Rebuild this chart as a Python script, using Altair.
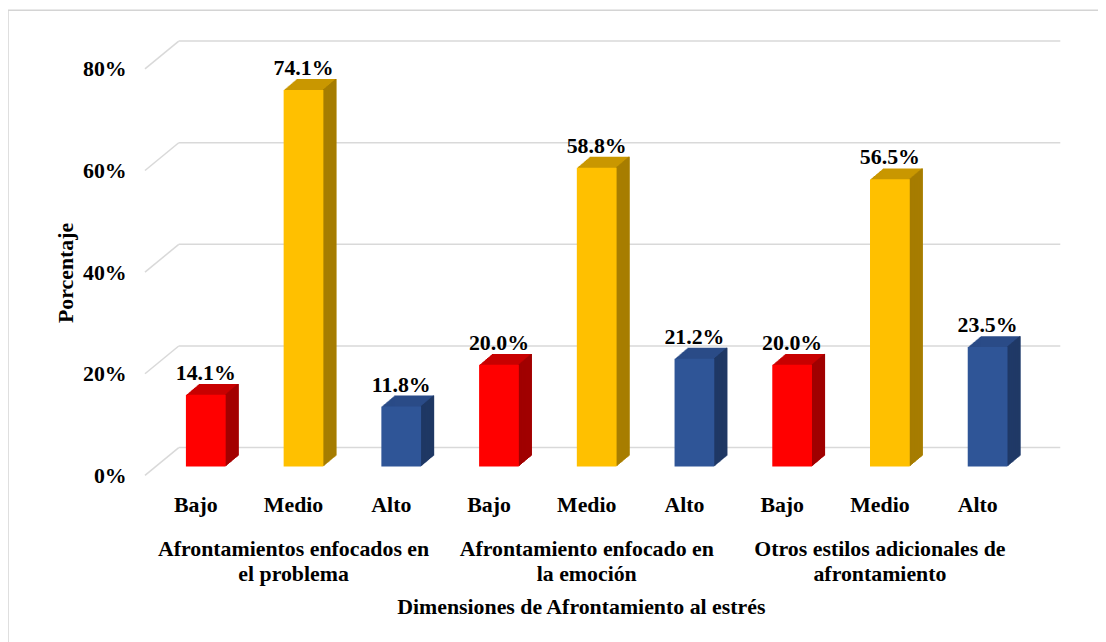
import altair as alt
import pandas as pd

# ---- data ----
groups = [
    "Afrontamientos enfocados en\nel problema",
    "Afrontamiento enfocado en\nla emoción",
    "Otros estilos adicionales de\nafrontamiento",
]
levels = ["Bajo", "Medio", "Alto"]
values_problema = [14.1, 74.1, 11.8]
values_emocion = [20.0, 58.8, 21.2]
values_otros = [20.0, 56.5, 23.5]
y_ticks = [0, 20, 40, 60, 80]

all_values = [values_problema, values_emocion, values_otros]
rows = []
for gi, g in enumerate(groups):
    for li, lv in enumerate(levels):
        rows.append({"id": f"{gi}-{lv}", "group": g, "level": lv, "value": all_values[gi][li]})
df = pd.DataFrame(rows)
order = list(df["id"])
ticks_df = pd.DataFrame({"tick": y_ticks})
group_df = pd.DataFrame({"id": [f"{gi}-Medio" for gi in range(len(groups))], "group": groups})

# ---- styles ----
FONT = "Liberation Serif"
FS = 22
front_colors = ["#FF0000", "#FFC000", "#2F5597"]
top_colors = ["#C80000", "#C99700", "#2A4B87"]
side_colors = ["#A00000", "#A47B00", "#1F3864"]
W = 886
H = 409.5
BAR_W = 40
SHIFT = 10
DEPTH_X = 13
DEPTH_Y = 11
GRID = "#D9D9D9"
PAD_L = 140

xscale = alt.Scale(domain=order, paddingInner=0, paddingOuter=0)
yscale = alt.Scale(domain=[0, 80], nice=False, zero=True)

x_enc = alt.X(
    "id:N",
    scale=xscale,
    sort=order,
    axis=alt.Axis(
        labelExpr="split(datum.value, '-')[1]",
        labelFont=FONT, labelFontSize=FS, labelFontWeight="bold", labelColor="black",
        labelPadding=28, ticks=False, domain=False, grid=False, labelAngle=0,
        title="Dimensiones de Afrontamiento al estrés",
        titleFont=FONT, titleFontSize=FS, titleFontWeight="bold", titleColor="black",
        titleX=437, titleY=148, titleBaseline="alphabetic", titleAlign="center",
    ),
)
y_enc = alt.Y(
    "value:Q",
    scale=yscale,
    axis=alt.Axis(
        values=y_ticks, labelExpr="datum.value + '%'",
        labelFont=FONT, labelFontSize=FS, labelFontWeight="bold", labelColor="black",
        labelPadding=21, labelOffset=9, ticks=False, domain=False, grid=False,
        title="Porcentaje", titleFont=FONT, titleFontSize=FS, titleFontWeight="bold",
        titleColor="black", titleAngle=270, titleX=-82, titleY=214,
        titleAlign="center", titleBaseline="middle",
    ),
)

def col(rng):
    return alt.Color("level:N", scale=alt.Scale(domain=levels, range=rng), legend=None)

base = alt.Chart(df)

# frame
frame = alt.Chart(pd.DataFrame({"a": [0]})).mark_rect(
    filled=False, stroke="#D4D4D4", strokeWidth=1.5
).encode(x=alt.value(-140), x2=alt.value(965), y=alt.value(-50), y2=alt.value(600))

# gridlines (back wall + left diagonals)
grid_back = alt.Chart(ticks_df).mark_rule(color=GRID, strokeWidth=1.5, yOffset=-19).encode(
    y=alt.Y("tick:Q", scale=yscale), x=alt.value(32), x2=alt.value(920)
)
grid_diag = alt.Chart(ticks_df).mark_rule(color=GRID, strokeWidth=1.5, yOffset=9, y2Offset=-19).encode(
    y=alt.Y("tick:Q", scale=yscale), y2="tick:Q", x=alt.value(-2), x2=alt.value(32)
)

layers = [frame, grid_back, grid_diag]

# top face (stacked shifted copies)
for k in range(1, DEPTH_X + 1):
    dy = k * DEPTH_Y / DEPTH_X
    layers.append(
        base.mark_bar(width=BAR_W, xOffset=SHIFT + k, yOffset=-dy).encode(
            x=x_enc, y=y_enc, color=col(top_colors)
        )
    )
# side face strips
for k in range(1, DEPTH_X + 1):
    dy = k * DEPTH_Y / DEPTH_X
    layers.append(
        base.mark_bar(width=1.4, xOffset=SHIFT + BAR_W / 2 + k - 0.5, yOffset=-dy).encode(
            x=x_enc, y=y_enc, color=col(side_colors)
        )
    )
# front face
layers.append(
    base.mark_bar(width=BAR_W, xOffset=SHIFT).encode(x=x_enc, y=y_enc, color=col(front_colors))
)
# value labels
layers.append(
    base.transform_calculate(label="format(datum.value, '.1f') + '%'")
    .mark_text(font=FONT, fontSize=FS, fontWeight="bold", color="black",
               baseline="alphabetic", dy=-15, xOffset=SHIFT)
    .encode(x=x_enc, y=y_enc, text="label:N")
)
# group labels
layers.append(
    alt.Chart(group_df)
    .mark_text(font=FONT, fontSize=FS, fontWeight="bold", color="black",
               baseline="alphabetic", lineBreak="\n", lineHeight=25, align="center")
    .encode(x=alt.X("id:N", scale=xscale, sort=order), y=alt.value(500), text="group:N")
)

chart = (
    alt.layer(*layers)
    .resolve_scale(color="independent")
    .properties(
        width=W, height=H,
        autosize=alt.AutoSizeParams(type="none"),
        padding={"left": PAD_L, "top": 50, "right": 72, "bottom": 176},
    )
    .configure(background="white")
    .configure_view(strokeWidth=0, stroke="transparent")
)

chart.save("out.html", embed_options={"renderer": "svg", "actions": False})
